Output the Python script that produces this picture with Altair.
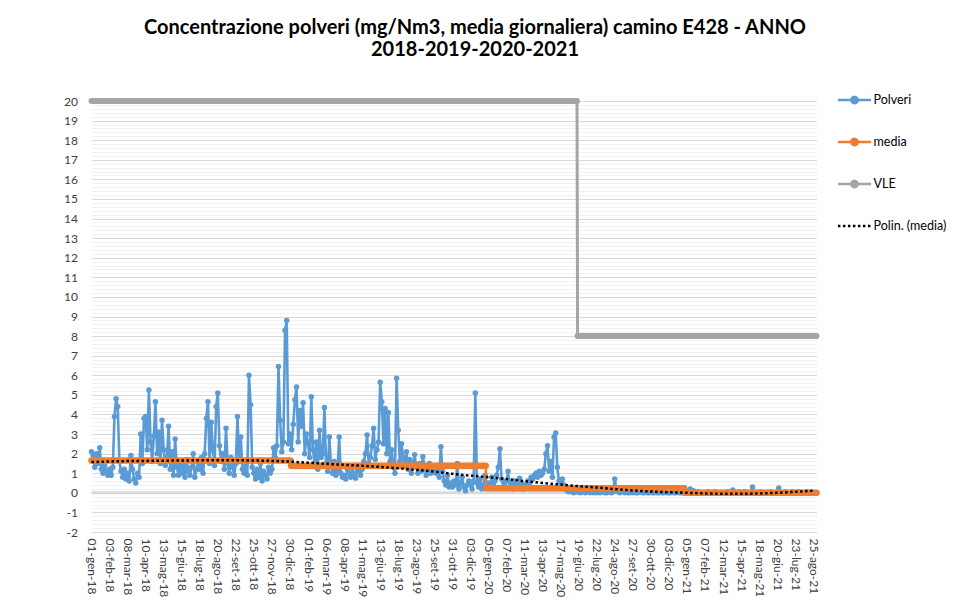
import copy
import json
import numpy as np
import pandas as pd
import altair as alt

FONT = "Lato"

# ---------------- data ----------------
tick_labels = ["01-gen-18", "03-feb-18", "08-mar-18", "10-apr-18", "13-mag-18", "15-giu-18",
               "18-lug-18", "20-ago-18", "22-set-18", "25-ott-18", "27-nov-18", "30-dic-18",
               "01-feb-19", "06-mar-19", "08-apr-19", "11-mag-19", "13-giu-19", "18-lug-19",
               "23-ago-19", "25-set-19", "31-ott-19", "03-dic-19", "05-gen-20", "07-feb-20",
               "11-mar-20", "13-apr-20", "17-mag-20", "19-giu-20", "22-lug-20", "24-ago-20",
               "27-set-20", "30-ott-20", "03-dic-20", "05-gen-21", "07-feb-21", "12-mar-21",
               "15-apr-21", "18-mag-21", "20-giu-21", "23-lug-21", "25-ago-21"]
label_step = 33      # categories between two labels
sample_step = 3      # one value every 3 categories

# Polveri (mg/Nm3), sampled every 3 days
polveri_2018 = [
    2.1, 1.9, 1.3, 2.0, 1.5, 2.3, 1.2, 1.0, 1.4, 1.1, 0.9,
    1.2, 0.9, 1.3, 3.9, 4.8, 4.4, 1.6, 1.1, 0.8, 1.2, 0.7,
    1.0, 0.6, 1.9, 1.2, 0.7, 0.5, 1.0, 0.8, 3.0, 1.5, 3.8,
    3.9, 2.2, 5.25, 2.6, 1.6, 2.9, 4.65, 2.0, 3.1, 1.5, 3.7,
    2.2, 1.4, 1.8, 3.4, 1.2, 2.1, 0.9, 2.75, 1.3, 0.9, 1.5,
    1.0, 1.5, 0.8, 1.7, 1.1, 0.9, 1.3, 2.0, 0.8, 1.2, 1.6,
    1.2, 1.8, 1.0, 2.0, 3.8, 4.65, 1.5, 3.6, 2.2, 1.4, 4.4,
    5.1, 2.4, 1.6, 2.0, 1.2, 3.3, 1.5, 1.0, 1.8, 1.3, 0.9,
    1.5, 3.9, 1.6, 2.85, 1.2, 1.0, 1.4, 0.9, 6.0, 4.5, 1.3,
    1.0, 0.7, 1.2, 0.8, 1.5, 0.6, 1.1, 0.9, 0.7, 1.3, 1.0,
    1.2, 2.3, 1.8, 2.4, 6.45, 3.7, 2.1, 2.6, 8.3, 8.8, 2.5,
]
polveri_2019 = [
    3.0, 2.2, 3.5, 4.75, 5.4, 2.6, 4.2, 3.4, 4.6, 2.0, 3.0,
    2.5, 1.8, 4.9, 2.2, 1.5, 2.6, 1.2, 3.2, 1.8, 2.0, 4.35,
    1.5, 1.1, 2.85, 1.4, 1.0, 1.6, 0.9, 1.2, 2.85, 1.0, 0.8,
    0.9, 0.7, 1.2, 1.0, 0.8, 1.3, 0.9, 0.75, 1.1, 1.4, 0.9,
    1.2, 1.6, 2.0, 2.95, 1.5, 1.8, 2.4, 3.3, 1.7, 2.2, 2.6,
    5.65, 4.65, 2.5, 4.3, 2.0, 4.1, 1.6, 2.2, 1.3, 1.0, 5.85,
    3.2, 1.6, 2.5, 1.8, 1.4, 2.1, 1.2, 1.7, 1.0, 1.5, 1.95,
    1.3, 1.0, 1.5, 1.1, 1.85, 1.4, 0.9, 1.2, 1.5, 1.0, 1.3,
    1.2, 1.0, 1.4, 0.8, 2.35, 1.1, 0.6, 0.4, 0.9, 0.3, 0.5,
    0.3, 0.6, 0.4, 1.5, 0.2, 0.5, 0.8, 0.3, 0.1, 0.4, 0.6,
    0.4, 0.2, 0.6, 5.1, 0.5, 0.3, 0.7, 0.2, 0.4, 0.9, 0.3,
]
polveri_2020 = [
    0.5, 0.3, 0.8, 0.4, 0.6, 0.9, 1.3, 2.25, 0.7, 0.3, 0.5,
    0.6, 1.1, 0.3, 0.5, 0.2, 0.6, 0.4, 0.3, 0.75, 0.5, 0.2,
    0.4, 0.3, 0.6, 0.5, 0.8, 0.7, 0.9, 1.0, 0.8, 1.1, 0.9,
    1.0, 1.2, 2.0, 2.4, 1.1, 1.6, 0.8, 2.85, 3.05, 1.3, 0.6,
    0.5, 0.7, 0.4, 0.2, 0.1, 0.05, 0.1, 0.05, 0.0, 0.1, 0.05,
    0.05, 0.0, 0.1, 0.05, 0.0, 0.05, 0.1, 0.0, 0.05, 0.0, 0.05,
    0.0, 0.05, 0.0, 0.1, 0.05, 0.0, 0.0, 0.05, 0.1, 0.0, 0.05,
    0.7, 0.2, 0.05, 0.0, 0.05, 0.1, 0.0, 0.05, 0.0, 0.0, 0.05,
    0.0, 0.05, 0.0, 0.0, 0.1, 0.05, 0.0, 0.0, 0.05, 0.0, 0.0,
    0.05, 0.0, 0.0, 0.05, 0.0, 0.0, 0.1, 0.0, 0.0, 0.05, 0.0,
    0.0, 0.0, 0.05, 0.0, 0.0, 0.05, 0.0, 0.0, 0.0, 0.05, 0.0,
]
polveri_2021 = [
    0.05, 0.0, 0.2, 0.0, 0.1, 0.0, 0.0, 0.05, 0.0, 0.0, 0.0,
    0.0, 0.0, 0.05, 0.0, 0.0, 0.0, 0.05, 0.0, 0.0, 0.0, 0.0,
    0.0, 0.0, 0.0, 0.05, 0.0, 0.0, 0.15, 0.0, 0.0, 0.0, 0.05,
    0.0, 0.0, 0.05, 0.0, 0.0, 0.0, 0.0, 0.3, 0.0, 0.0, 0.0,
    0.0, 0.05, 0.0, 0.0, 0.0, 0.0, 0.0, 0.05, 0.0, 0.0, 0.0,
    0.0, 0.25, 0.0, 0.0, 0.0, 0.05, 0.0, 0.0, 0.0, 0.05, 0.0,
    0.0, 0.0, 0.05, 0.0, 0.0, 0.0, 0.0, 0.05, 0.0, 0.0, 0.0,
    0.0, 0.0, 0.0,
]

# yearly mean (media): value and first/last category of each year
media_values = [1.65, 1.38, 0.23, 0.0]
media_start = [0, 365, 722, 1085]
media_end = [364, 721, 1084, 1326]

# limit value (VLE)
vle_values = [20, 8]
vle_start = [0, 889]
vle_end = [888, 1326]

# polynomial trend of media, read at every labelled category
trend_values = [1.57, 1.60, 1.62, 1.63, 1.64, 1.65, 1.66, 1.66, 1.66, 1.65, 1.63,
                1.59, 1.54, 1.48, 1.43, 1.38, 1.32, 1.25, 1.17, 1.08, 0.97, 0.88,
                0.80, 0.70, 0.60, 0.50, 0.42, 0.34, 0.27, 0.19, 0.12, 0.07, 0.03,
                0.00, -0.03, -0.05, -0.05, -0.03, 0.00, 0.05, 0.11]

series_names = ["Polveri", "media", "VLE", "Polin. (media)"]
series_colors = ["#5b9bd5", "#ed7d31", "#a5a5a5", "#000000"]
series_dashes = [[1, 0], [1, 0], [1, 0], [2.5, 2.5]]

# ---------------- tables ----------------
polveri = polveri_2018 + polveri_2019 + polveri_2020 + polveri_2021
df_pol = pd.DataFrame({"idx": [i * sample_step for i in range(len(polveri))],
                       "val": polveri, "series": "Polveri"})

df_media_seg = pd.DataFrame({"idx": media_start, "idx2": media_end,
                             "val": media_values, "series": "media"})
df_media_line = pd.DataFrame({
    "idx": [v for s, e in zip(media_start, media_end) for v in (s, e)],
    "val": [v for v in media_values for _ in (0, 1)],
    "series": "media"})
df_vle_seg = pd.DataFrame({"idx": vle_start, "idx2": vle_end,
                           "val": vle_values, "series": "VLE"})
df_vle_line = pd.DataFrame({
    "idx": [v for s, e in zip(vle_start, vle_end) for v in (s, e)],
    "val": [v for v in vle_values for _ in (0, 1)],
    "series": "VLE"})
df_trend = pd.DataFrame({"idx": [k * label_step for k in range(len(trend_values))],
                         "val": trend_values, "series": "Polin. (media)"})
df_zero = pd.DataFrame({"val": [0]})

# ---------------- encodings ----------------
label_expr = json.dumps(tick_labels) + "[round(datum.value / %d)]" % label_step
x_axis = alt.Axis(values=[k * label_step for k in range(len(tick_labels))],
                  labelExpr=label_expr, labelAngle=90, labelAlign="left",
                  labelBaseline="middle", labelPadding=6, labelFont=FONT,
                  labelFontSize=12, labelColor="#404040", grid=False, ticks=False,
                  domain=False, title=None, labelOverlap=False, labelBound=False)
x_scale = alt.Scale(domain=[0, 1326], nice=False, zero=False)

grid_vals = [round(v, 1) for v in np.arange(-2, 20.001, 0.2)]
is_major = "abs(datum.value - round(datum.value)) < 0.01"
y_axis = alt.Axis(values=grid_vals,
                  labelExpr=is_major + " ? '' + round(datum.value) : ''",
                  gridColor={"condition": {"test": is_major, "value": "#d9d9d9"},
                             "value": "#f1f1f1"},
                  gridWidth=1, ticks=False, domain=False, title=None,
                  labelFont=FONT, labelFontSize=12, labelColor="#404040",
                  labelPadding=14, labelOverlap=False)
y_scale = alt.Scale(domain=[-2, 20], nice=False, zero=False)

X = alt.X("idx:Q", scale=x_scale, axis=x_axis)
Y = alt.Y("val:Q", scale=y_scale, axis=y_axis)

legend = alt.Legend(title=None, orient="none", legendX=745, legendY=-19,
                    direction="vertical", symbolSize=1100, rowPadding=15,
                    labelFont=FONT, labelFontSize=12.5, labelColor="#000000",
                    labelOffset=1, padding=0, symbolStrokeWidth=2.5,
                    symbolType="stroke", labelLimit=200)
C = alt.Color("series:N", scale=alt.Scale(domain=series_names, range=series_colors),
              legend=legend)
D = alt.StrokeDash("series:N", scale=alt.Scale(domain=series_names, range=series_dashes),
                   legend=legend)

# custom legend symbols: a line with a round marker, a dotted line for the trend
sym_line_dot = "M-1,0H1M0.19,0A0.19,0.19,0,1,1,-0.19,0A0.19,0.19,0,1,1,0.19,0Z"
is_trend = "datum.value === 'Polin. (media)'"
legend_encode = {
    "symbols": {"update": {
        "shape": {"signal": "%s ? 'M-1,0H1' : '%s'" % (is_trend, sym_line_dot)},
        "stroke": {"scale": "color", "field": "value"},
        "fill": {"signal": "%s ? 'transparent' : scale('color', datum.value)" % is_trend},
        "strokeDash": {"signal": "%s ? [2.5, 2.5] : [1, 0]" % is_trend},
        "strokeWidth": {"value": 2.5},
        "opacity": {"value": 1},
        "fillOpacity": {"value": 1},
    }}
}


class LayerWithLegendSymbols(alt.LayerChart):
    def to_dict(self, *args, **kwargs):
        d = super().to_dict(*args, **kwargs)
        if isinstance(d, dict) and "layer" in d:
            d = copy.deepcopy(d)
            for lyr in d["layer"]:
                enc = lyr.get("encoding", {})
                for ch in ("color", "strokeDash"):
                    if ch in enc and isinstance(enc[ch].get("legend"), dict):
                        enc[ch]["legend"]["encode"] = legend_encode
        return d


# ---------------- layers ----------------
zero_line = alt.Chart(df_zero).mark_rule(color="#d9d9d9", strokeWidth=3).encode(y=Y)

pol = alt.Chart(df_pol).mark_line(
    strokeWidth=2.6, strokeJoin="round",
    point=alt.OverlayMarkDef(filled=True, size=30, opacity=1)
).encode(x=X, y=Y, color=C)

media_thin = alt.Chart(df_media_line).mark_line(strokeWidth=2.5).encode(x=X, y=Y, color=C)
media_thick = alt.Chart(df_media_seg).mark_rule(strokeWidth=6.5, strokeCap="round").encode(
    x=X, x2="idx2:Q", y=Y, color=C)

vle_thin = alt.Chart(df_vle_line).mark_line(strokeWidth=3).encode(x=X, y=Y, color=C)
vle_thick = alt.Chart(df_vle_seg).mark_rule(strokeWidth=6, strokeCap="round").encode(
    x=X, x2="idx2:Q", y=Y, color=C)

trend = alt.Chart(df_trend).mark_line(strokeWidth=2.5, interpolate="monotone").encode(
    x=X, y=Y, color=C, strokeDash=D)

layers = [zero_line, pol, media_thin, media_thick, vle_thin, vle_thick, trend]
props = dict(
    width=725, height=431,
    title=alt.Title(["Concentrazione polveri (mg/Nm3, media giornaliera) camino E428 - ANNO",
                     "2018-2019-2020-2021"],
                    font=FONT, fontSize=20, fontWeight="bold", color="#000000",
                    anchor="middle", dx=21, offset=22, lineHeight=22),
    autosize=alt.AutoSizeParams(type="none"),
    padding={"left": 83.5, "top": 93, "right": 137, "bottom": 66},
    background="white",
    config=alt.Config(view=alt.ViewConfig(stroke=None)),
)

chart = alt.layer(*layers).properties(**props)
try:
    custom = LayerWithLegendSymbols(layer=layers, **props)
    custom.to_dict()
    chart = custom
except Exception:
    pass

chart.save("out.html", embed_options={"renderer": "svg", "actions": False})
